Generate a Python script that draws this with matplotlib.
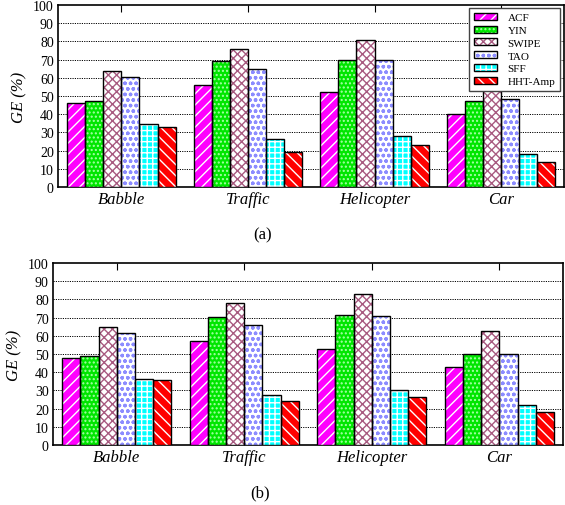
import matplotlib
matplotlib.use('Agg')
import matplotlib.pyplot as plt
import matplotlib.patches as mpatches
from matplotlib.legend_handler import HandlerTuple
import numpy as np

plt.rcParams['font.family'] = ['Liberation Serif', 'DejaVu Serif']
plt.rcParams['hatch.linewidth'] = 1.0

categories = ['Babble', 'Traffic', 'Helicopter', 'Car']
methods = ['ACF', 'YIN', 'SWIPE', 'TAO', 'SFF', 'HHT-Amp']

# panel (a)
ge_a = {
    'ACF':     [46, 56, 52, 40],
    'YIN':     [47, 69.5, 70, 47],
    'SWIPE':   [63.5, 76, 81, 58],
    'TAO':     [60.5, 65, 70, 48.5],
    'SFF':     [34.7, 26.2, 28, 18.3],
    'HHT-Amp': [33.2, 19.4, 23, 14],
}
# panel (b)
ge_b = {
    'ACF':     [48, 57.4, 52.5, 43],
    'YIN':     [49, 70.5, 71.6, 50],
    'SWIPE':   [65, 77.8, 82.8, 62.5],
    'TAO':     [61.3, 66, 71, 50],
    'SFF':     [36.3, 27.2, 30.3, 22.2],
    'HHT-Amp': [35.8, 23.9, 26.6, 18.3],
}

# face colour, hatch, hatch colour
styles = {
    'ACF':     ('#ff00ff', '///', 'white'),
    'YIN':     ('#00e600', '....', '#a8ffa8'),
    'SWIPE':   ('white', 'xxxx', '#a85a80'),
    'TAO':     ('white', 'ooo', '#8c8cff'),
    'SFF':     ('#00ffff', '+++', 'white'),
    'HHT-Amp': ('#ff0000', '\\\\\\', 'white'),
}

bar_w = 0.143


def draw_panel(ax, data, show_legend):
    x = np.arange(len(categories))
    handles = []
    for i, m in enumerate(methods):
        fc, hatch, hc = styles[m]
        pos = x + (i - 2.5) * bar_w
        ax.bar(pos, data[m], bar_w, color=fc, edgecolor='none', zorder=3)
        ax.bar(pos, data[m], bar_w, fill=False, hatch=hatch, edgecolor=hc, lw=0, zorder=4)
        ax.bar(pos, data[m], bar_w, fill=False, edgecolor='black', lw=1.0, zorder=5)
        h = (mpatches.Patch(facecolor=fc, edgecolor='none'),
             mpatches.Patch(fill=False, hatch=hatch, edgecolor=hc, lw=0),
             mpatches.Patch(fill=False, edgecolor='black', lw=1.0))
        handles.append(h)

    ax.set_xlim(-0.5, 3.5)
    ax.set_ylim(0, 100)
    ax.set_yticks(range(0, 101, 10))
    ax.set_xticks(x)
    ax.set_xticklabels(categories, fontstyle='italic', fontsize=12)
    ax.tick_params(axis='x', direction='in', top=True, bottom=True, length=5, pad=3)
    ax.tick_params(axis='y', direction='in', left=False, labelsize=10, pad=3)
    ax.set_ylabel('GE (%)', fontstyle='italic', fontsize=12, labelpad=4)
    for y in range(10, 100, 10):
        ax.axhline(y, color='black', lw=0.7, ls=(0, (1.2, 1.2)), zorder=1)
    for s in ax.spines.values():
        s.set_linewidth(1.2)

    if show_legend:
        leg = ax.legend(handles, methods, handler_map={tuple: HandlerTuple(ndivide=1)},
                        loc='upper right', bbox_to_anchor=(0.992, 0.985), fontsize=8,
                        fancybox=False, edgecolor='#444444', framealpha=1,
                        handlelength=2.0, handleheight=0.6, handletextpad=1.0,
                        labelspacing=0.3, borderpad=0.45, borderaxespad=0)
        leg.get_frame().set_linewidth(1.0)
        leg.set_zorder(10)


fig = plt.figure(figsize=(5.65, 5.06), dpi=100)
ax1 = fig.add_axes([0.1027, 0.6285, 0.8963, 0.3595])
ax2 = fig.add_axes([0.0938, 0.1186, 0.9027, 0.3597])

draw_panel(ax1, ge_a, True)
draw_panel(ax2, ge_b, False)

fig.text(0.465, 1 - 235 / 506, '(a)', ha='center', va='center', fontsize=12)
fig.text(0.46, 1 - 493 / 506, '(b)', ha='center', va='center', fontsize=12)

fig.savefig('out.png', dpi=100)
